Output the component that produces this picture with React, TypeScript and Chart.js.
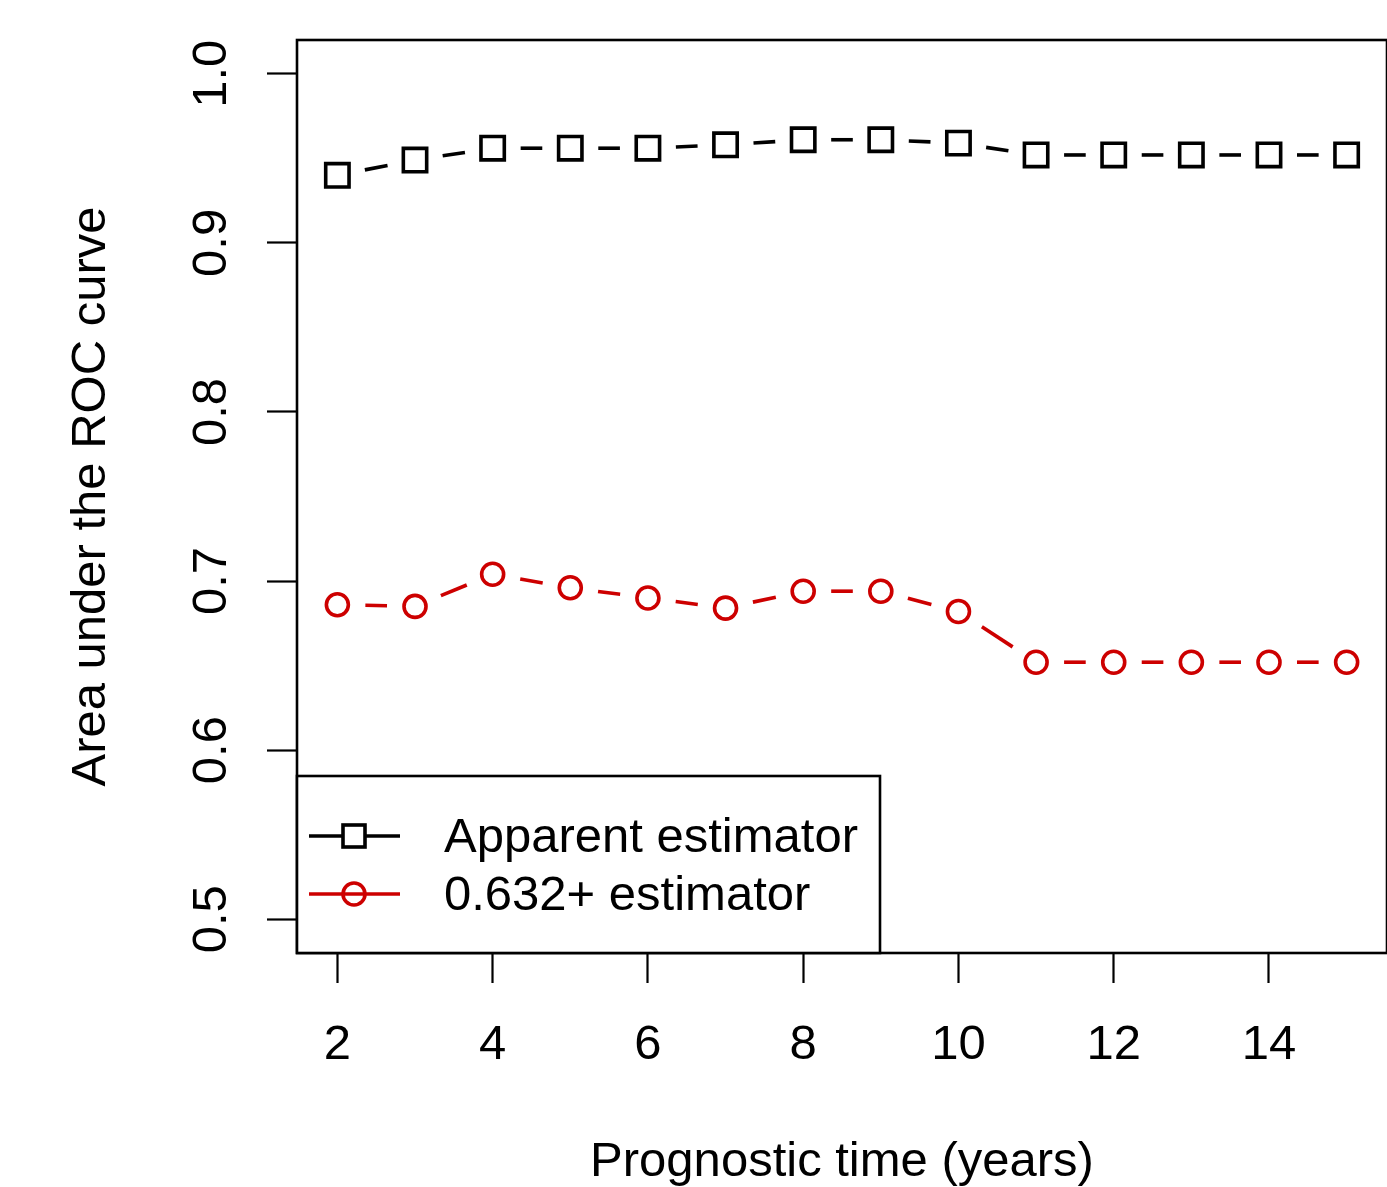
import React, { useEffect, useRef } from "react";
import { Chart, registerables } from "chart.js";

Chart.register(...registerables);

const years = [2, 3, 4, 5, 6, 7, 8, 9, 10, 11, 12, 13, 14, 15];
const apparentAUC = [0.940, 0.949, 0.956, 0.956, 0.956, 0.958, 0.961, 0.961, 0.959, 0.952, 0.952, 0.952, 0.952, 0.952];
const plus632AUC = [0.686, 0.685, 0.704, 0.696, 0.690, 0.684, 0.694, 0.694, 0.682, 0.652, 0.652, 0.652, 0.652, 0.652];
const xTicks = [2, 4, 6, 8, 10, 12, 14];
const yTicks = [0.5, 0.6, 0.7, 0.8, 0.9, 1.0];
const seriesLabels = ["Apparent estimator", "0.632+ estimator"];
const seriesColors = ["#000000", "#CD0000"];

const FONT = "'Liberation Sans', Arial, Helvetica, sans-serif";
const FS = 49;
const LW = 3.6;

// R type="b": line segments with gaps around the points
const gappedLines = {
  id: "gappedLines",
  beforeDatasetsDraw(chart: any) {
    const ctx = chart.ctx;
    const gap = 28;
    chart.data.datasets.forEach((ds: any, i: number) => {
      const meta = chart.getDatasetMeta(i);
      const pts = meta.data;
      ctx.save();
      ctx.strokeStyle = ds.borderColor;
      ctx.lineWidth = LW;
      ctx.lineCap = "butt";
      for (let k = 0; k < pts.length - 1; k++) {
        const a = pts[k], b = pts[k + 1];
        const dx = b.x - a.x, dy = b.y - a.y;
        const len = Math.hypot(dx, dy);
        if (len <= 2 * gap) continue;
        const ux = dx / len, uy = dy / len;
        ctx.beginPath();
        ctx.moveTo(a.x + ux * gap, a.y + uy * gap);
        ctx.lineTo(b.x - ux * gap, b.y - uy * gap);
        ctx.stroke();
      }
      ctx.restore();
    });
  },
};

const boxAndLegend = {
  id: "boxAndLegend",
  afterDraw(chart: any) {
    const ctx = chart.ctx;
    const { left, top, right, bottom } = chart.chartArea;
    ctx.save();
    ctx.strokeStyle = "#000";
    ctx.lineWidth = 2.6;
    ctx.strokeRect(left, top, right - left, bottom - top);

    // legend box anchored at the plot's bottom-left corner
    const lw = 583, lh = 177;
    const lx = left, ly = bottom - lh;
    ctx.fillStyle = "#fff";
    ctx.fillRect(lx, ly, lw, lh);
    ctx.strokeRect(lx, ly, lw, lh);

    const rowY = [ly + 60, ly + 118];
    chart.data.datasets.forEach((ds: any, i: number) => {
      const y = rowY[i];
      ctx.strokeStyle = ds.borderColor;
      ctx.lineWidth = LW;
      ctx.beginPath();
      ctx.moveTo(lx + 12, y);
      ctx.lineTo(lx + 103, y);
      ctx.stroke();
      const cx = lx + 57;
      if (ds.pointStyle === "rect") {
        ctx.fillStyle = "#fff";
        ctx.fillRect(cx - 11, y - 11, 22, 22);
        ctx.strokeRect(cx - 11, y - 11, 22, 22);
      } else {
        ctx.fillStyle = "#fff";
        ctx.beginPath();
        ctx.arc(cx, y, 11, 0, Math.PI * 2);
        ctx.stroke();
      }
      ctx.fillStyle = "#000";
      ctx.font = `${FS}px ${FONT}`;
      ctx.textAlign = "left";
      ctx.textBaseline = "middle";
      ctx.fillText(ds.label, lx + 147, y + 2);
    });
    ctx.restore();
  },
};

export default function App() {
  const ref = useRef<HTMLCanvasElement | null>(null);
  useEffect(() => {
    if (!ref.current) return;
    const chart = new Chart(ref.current, {
      type: "line",
      data: {
        datasets: [
          {
            label: seriesLabels[0],
            data: years.map((x, i) => ({ x, y: apparentAUC[i] })),
            borderColor: seriesColors[0],
            backgroundColor: "rgba(0,0,0,0)",
            showLine: false,
            pointStyle: "rect",
            pointRadius: 16.5,
            pointBorderWidth: LW,
            pointBorderColor: seriesColors[0],
          },
          {
            label: seriesLabels[1],
            data: years.map((x, i) => ({ x, y: plus632AUC[i] })),
            borderColor: seriesColors[1],
            backgroundColor: "rgba(0,0,0,0)",
            showLine: false,
            pointStyle: "circle",
            pointRadius: 11,
            pointBorderWidth: LW,
            pointBorderColor: seriesColors[1],
          },
        ],
      },
      options: {
        animation: false,
        responsive: false,
        maintainAspectRatio: false,
        layout: { autoPadding: false, padding: { left: 0, top: 40, right: 0, bottom: 0 } },
        plugins: {
          legend: { display: false },
          tooltip: { enabled: false },
        },
        scales: {
          x: {
            type: "linear",
            position: "bottom",
            min: 1.48,
            max: 15.52,
            afterBuildTicks: (s: any) => {
              s.ticks = xTicks.map((v) => ({ value: v }));
            },
            afterFit: (s: any) => {
              s.height = 234;
              s.paddingLeft = 0;
              s.paddingRight = 0;
            },
            border: { display: false },
            grid: {
              display: true,
              drawOnChartArea: false,
              drawTicks: true,
              tickLength: 30,
              tickWidth: 2.2,
              tickColor: "#000",
            },
            ticks: {
              color: "#000",
              font: { family: FONT, size: FS },
              padding: 33,
              maxRotation: 0,
              autoSkip: false,
            },
            title: {
              display: true,
              text: "Prognostic time (years)",
              color: "#000",
              font: { family: FONT, size: FS, lineHeight: 1 },
              padding: { top: 0, bottom: 0 },
            },
          },
          y: {
            type: "linear",
            position: "left",
            min: 0.48,
            max: 1.02,
            afterBuildTicks: (s: any) => {
              s.ticks = yTicks.map((v) => ({ value: v }));
            },
            afterFit: (s: any) => {
              s.width = 297;
              s.paddingTop = 0;
              s.paddingBottom = 0;
            },
            border: { display: false },
            grid: {
              display: true,
              drawOnChartArea: false,
              drawTicks: true,
              tickLength: 30,
              tickWidth: 2.2,
              tickColor: "#000",
            },
            ticks: {
              color: "#000",
              font: { family: FONT, size: FS },
              padding: 20,
              minRotation: 90,
              maxRotation: 90,
              crossAlign: "center",
              autoSkip: false,
              callback: (v: any) => Number(v).toFixed(1),
            },
            title: {
              display: true,
              text: "Area under the ROC curve",
              color: "#000",
              font: { family: FONT, size: FS, lineHeight: 1 },
              padding: { top: 67, bottom: 0 },
            },
          },
        },
      },
      plugins: [gappedLines, boxAndLegend],
    });
    return () => chart.destroy();
  }, []);
  return (
    <div style={{ position: "absolute", left: 0, top: 0, width: 1387, height: 1187, background: "#fff" }}>
      <canvas ref={ref} width={1387} height={1187} style={{ display: "block" }} />
    </div>
  );
}
